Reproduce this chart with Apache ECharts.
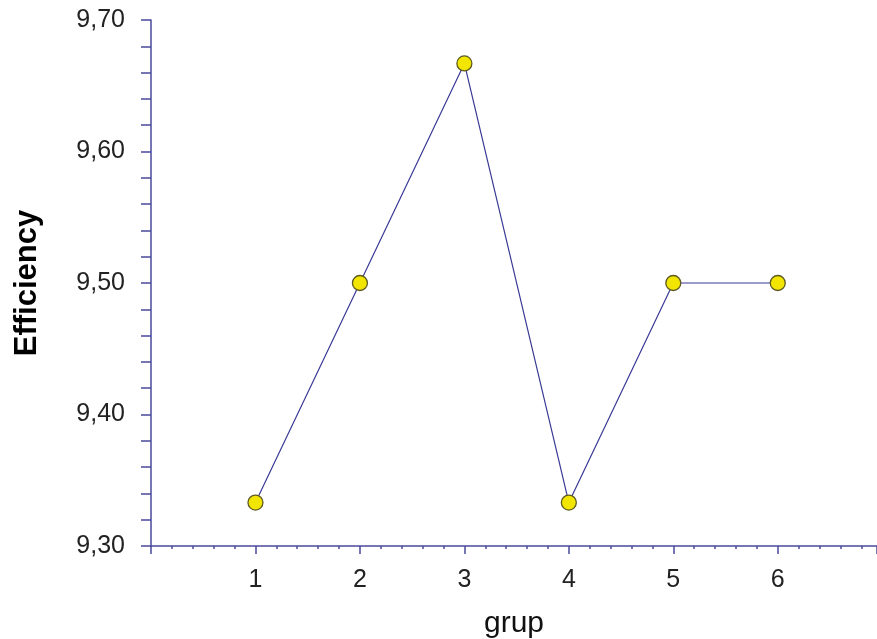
<!DOCTYPE html>
<html>
<head>
<meta charset="utf-8">
<script src="https://cdn.jsdelivr.net/npm/echarts@6/dist/echarts.min.js"></script>
<style>
html, body { margin: 0; padding: 0; background: #fff; }
#picture { width: 877px; height: 639px; }
</style>
</head>
<body>
<div id="picture"></div>
<script>
// group numbers and measured efficiency
var groups = [1, 2, 3, 4, 5, 6];
var efficiency = [9.333, 9.5, 9.667, 9.333, 9.5, 9.5];
var yTicks = [9.3, 9.4, 9.5, 9.6, 9.7];

var axisColor = '#4a4a9c';
var font = 'Arial, "Liberation Sans", sans-serif';

var myChart = echarts.init(document.getElementById('picture'));
var points = groups.map(function (g, i) { return [g, efficiency[i]]; });

var option = {
    backgroundColor: '#fff',
    animation: false,
    grid: { left: 151, top: 20, right: 0, bottom: 93, containLabel: false, outerBoundsMode: 'none' },
    xAxis: {
        type: 'value',
        min: 0,
        max: 6.95,
        interval: 1,
        name: 'grup',
        nameLocation: 'middle',
        nameGap: 63,
        nameTextStyle: { fontFamily: font, fontSize: 30, color: '#111' },
        axisLine: { lineStyle: { color: axisColor, width: 1.5 } },
        axisTick: { show: true, length: 8, lineStyle: { color: axisColor, width: 1.5 } },
        minorTick: { show: true, splitNumber: 5, length: 3, lineStyle: { color: axisColor, width: 1.5 } },
        splitLine: { show: false },
        axisLabel: {
            fontFamily: font, fontSize: 25, color: '#222', margin: 22,
            formatter: function (v) {
                return groups.indexOf(v) >= 0 ? String(v) : '';
            }
        }
    },
    yAxis: {
        type: 'value',
        min: yTicks[0],
        max: yTicks[yTicks.length - 1],
        interval: 0.1,
        name: 'Efficiency',
        nameLocation: 'middle',
        nameRotate: 90,
        nameGap: 108,
        nameTextStyle: { fontFamily: font, fontSize: 31, fontWeight: 'bold', color: '#000' },
        axisLine: { show: true, lineStyle: { color: axisColor, width: 1.5 } },
        axisTick: { show: true, length: 10, lineStyle: { color: axisColor, width: 1.5 } },
        minorTick: { show: true, splitNumber: 5, length: 10, lineStyle: { color: axisColor, width: 1.5 } },
        splitLine: { show: false },
        axisLabel: {
            fontFamily: font, fontSize: 25, color: '#222', margin: 26,
            formatter: function (v) { return v.toFixed(2).replace('.', ','); }
        }
    },
    series: [{
        type: 'line',
        data: points,
        symbol: 'circle',
        symbolSize: 15,
        lineStyle: { color: '#3a3a96', width: 1.2 },
        itemStyle: { color: '#f2e600', borderColor: '#5e5a22', borderWidth: 1.3 }
    }]
};
myChart.setOption(option);
</script>
</body>
</html>
